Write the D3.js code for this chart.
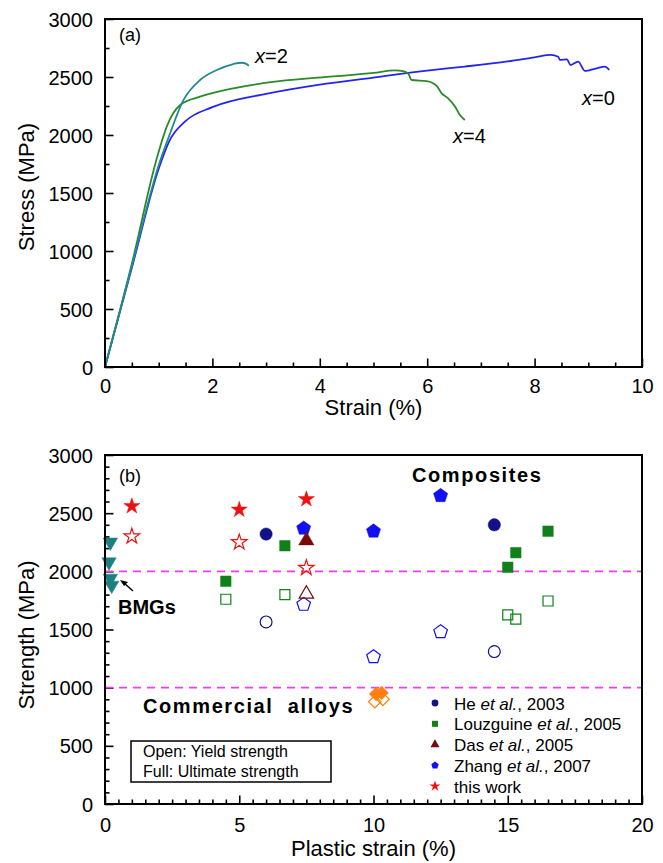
<!DOCTYPE html>
<html>
<head>
<meta charset="utf-8">
<script src="https://cdn.jsdelivr.net/npm/d3@7"></script>
<style>
  body { margin: 0; background: #fff; }
  svg { display: block; font-family: "Liberation Sans", Arial, sans-serif; }
  .axis text { font-size: 20px; fill: #000; }
  .axis line { stroke: #000; stroke-width: 1.6; }
  .axis path { display: none; }
</style>
</head>
<body>
<div id="chart"></div>
<script>
// ---- panel (a): stress-strain curves, [strain %, stress MPa] ----
const curveX0 = [[0,0],[0.5,855],[1.0,1710],[1.2,1950],[1.5,2120],[2.0,2240],[3.0,2355],[4.0,2435],
  [5.0,2495],[6.0,2555],[6.7,2590],[7.5,2635],[8.0,2670],[8.3,2690],[8.44,2675],[8.47,2647],[8.6,2652],
  [8.67,2603],[8.81,2632],[8.94,2552],[9.03,2560],[9.16,2575],[9.31,2589],[9.39,2560]];
const curveX2 = [[0,0],[0.5,870],[1.0,1740],[1.2,2000],[1.46,2300],[1.77,2474],[2.08,2560],
  [2.39,2612],[2.55,2623],[2.62,2615],[2.68,2597]];
const curveX4 = [[0,0],[0.5,890],[0.96,1790],[1.15,2072],[1.27,2187],[1.40,2259],[1.77,2330],
  [2.39,2402],[3.01,2451],[4.19,2503],[5.0,2535],[5.4,2557],[5.55,2550],[5.65,2526],[5.71,2474],
  [5.99,2465],[6.18,2422],[6.27,2359],[6.39,2316],[6.52,2244],[6.61,2172],[6.70,2129]];
const curveLabels = ["x=0", "x=2", "x=4"];

// ---- panel (b): strength vs plastic strain ----
const bmgStrain = [0.2, 0.15, 0.2, 0.25];
const bmgStrength = [2250, 2080, 1940, 1880];
const thisStrain = [1, 5, 7.5];
const thisUlt = [2560, 2530, 2620];
const thisYield = [2300, 2250, 2030];
const heStrain = [6, 14.5];
const heUlt = [2320, 2400];
const heYield = [1565, 1310];
const louzStrain = [4.5, 6.7, 15.0, 15.3, 16.5];
const louzUlt = [1915, 2220, 2035, 2160, 2345];
const louzYield = [1760, 1800, 1625, 1590, 1745];
const dasStrain = [7.5];
const dasUlt = [2265];
const dasYield = [1805];
const zhangStrain = [7.4, 10, 12.5];
const zhangUlt = [2370, 2345, 2650];
const zhangYield = [1715, 1265, 1480];
const alloyUltStrain = [10.1, 10.3];
const alloyUlt = [945, 955];
const alloyYieldStrain = [10.05, 10.35];
const alloyYield = [880, 900];
const limitLines = [2000, 1000];
const legendNames = [
  ["He ", "et al.", ", 2003"],
  ["Louzguine ", "et al.", ", 2005"],
  ["Das ", "et al.", ", 2005"],
  ["Zhang ", "et al.", ", 2007"],
  ["this work", "", ""]
];

const W = 663, H = 863;
const svg = d3.select("#chart").append("svg").attr("width", W).attr("height", H);

// pentagon symbol (d3 has none)
const symbolPentagon = {
  draw(ctx, size) {
    const r = Math.sqrt(size / 2.378);
    for (let i = 0; i < 5; i++) {
      const a = -Math.PI / 2 + i * 2 * Math.PI / 5;
      const px = r * Math.cos(a), py = r * Math.sin(a);
      if (i === 0) ctx.moveTo(px, py); else ctx.lineTo(px, py);
    }
    ctx.closePath();
  }
};

function frameAxes(g, x, y, xMajor, xMinor, yMajor, yMinor, ih) {
  g.append("g").attr("class", "axis").attr("transform", `translate(0,${ih})`)
    .call(d3.axisBottom(x).tickValues(xMinor).tickSize(-4.5).tickFormat(""));
  g.append("g").attr("class", "axis").attr("transform", `translate(0,${ih})`)
    .call(d3.axisBottom(x).tickValues(xMajor).tickSize(-8.5).tickPadding(11).tickFormat(d3.format("d")));
  g.append("g").attr("class", "axis")
    .call(d3.axisLeft(y).tickValues(yMinor).tickSize(-4.5).tickFormat(""));
  g.append("g").attr("class", "axis")
    .call(d3.axisLeft(y).tickValues(yMajor).tickSize(-8.5).tickPadding(12).tickFormat(d3.format("d")));
  g.selectAll(".axis text").attr("dy", null);
}

// ================= panel (a) =================
const A = { left: 105, top: 19, w: 537, h: 348 };
const gA = svg.append("g").attr("transform", `translate(${A.left},${A.top})`);
const xA = d3.scaleLinear().domain([0, 10]).range([0, A.w]);
const yA = d3.scaleLinear().domain([0, 3000]).range([A.h, 0]);

frameAxes(gA, xA, yA, d3.range(0, 11, 2), d3.range(0.5, 10, 0.5).filter(v => v % 2 !== 0),
  d3.range(0, 3001, 500), d3.range(250, 3000, 500), A.h);
gA.selectAll(".axis text").filter(function () { return this.parentNode.parentNode.getAttribute("transform"); })
  .attr("y", 26);
gA.selectAll(".axis text").filter(function () { return !this.parentNode.parentNode.getAttribute("transform"); })
  .attr("dy", "0.35em");

const lineA = d3.line().x(d => xA(d[0])).y(d => yA(d[1])).curve(d3.curveMonotoneX);
const curves = [[curveX0, "#2424f2"], [curveX4, "#2a8a2a"], [curveX2, "#23888f"]];
curves.forEach(([data, col]) => {
  gA.append("path").datum(data).attr("d", lineA)
    .attr("fill", "none").attr("stroke", col).attr("stroke-width", 1.8);
});
gA.append("rect").attr("width", A.w).attr("height", A.h)
  .attr("fill", "none").attr("stroke", "#000").attr("stroke-width", 2);

gA.append("text").attr("x", 14).attr("y", 22).attr("font-size", 18).text("(a)");
function xLabel(g, x, y, label) {
  const t = g.append("text").attr("x", x).attr("y", y).attr("font-size", 20);
  t.append("tspan").attr("font-style", "italic").text(label[0]);
  t.append("tspan").text(label.slice(1));
}
xLabel(gA, 150, 44, curveLabels[1]);
xLabel(gA, 348, 124, curveLabels[2]);
xLabel(gA, 477, 86, curveLabels[0]);

svg.append("text").attr("transform", `translate(34,${A.top + 168}) rotate(-90)`)
  .attr("text-anchor", "middle").attr("font-size", 22).text("Stress (MPa)");
svg.append("text").attr("x", A.left + A.w / 2).attr("y", 415)
  .attr("text-anchor", "middle").attr("font-size", 22).text("Strain (%)");

// ================= panel (b) =================
const B = { left: 105, top: 455, w: 537, h: 349 };
const gB = svg.append("g").attr("transform", `translate(${B.left},${B.top})`);
const xB = d3.scaleLinear().domain([0, 20]).range([0, B.w]);
const yB = d3.scaleLinear().domain([0, 3000]).range([B.h, 0]);

frameAxes(gB, xB, yB, d3.range(0, 21, 5), d3.range(0.5, 20, 0.5).filter(v => v % 5 !== 0),
  d3.range(0, 3001, 500), d3.range(100, 3000, 100).filter(v => v % 500 !== 0), B.h);
gB.selectAll(".axis text").filter(function () { return this.parentNode.parentNode.getAttribute("transform"); })
  .attr("y", 28);
gB.selectAll(".axis text").filter(function () { return !this.parentNode.parentNode.getAttribute("transform"); })
  .attr("dy", "0.35em");

gB.selectAll("line.limit").data(limitLines).join("line").attr("class", "limit")
  .attr("x1", 0).attr("x2", B.w).attr("y1", d => yB(d)).attr("y2", d => yB(d))
  .attr("stroke", "#f03cf0").attr("stroke-width", 1.6).attr("stroke-dasharray", "8,6");

function plotSeries(xs, ys, type, size, color, filled, rotate = 0) {
  const sym = d3.symbol().type(type).size(size);
  gB.append("g").selectAll("path").data(xs.map((x, i) => [x, ys[i]])).join("path")
    .attr("d", sym)
    .attr("transform", d => `translate(${xB(d[0])},${yB(d[1])}) rotate(${rotate})`)
    .attr("fill", filled ? color : "none")
    .attr("stroke", color).attr("stroke-width", filled ? 0.5 : 1.2);
}

const C = { he: "#111188", louz: "#10801a", das: "#7a0a0a", zhang: "#1010f0", this: "#f01010",
  alloy: "#ff8010", bmg: "#1a8080" };

plotSeries(bmgStrain, bmgStrength, d3.symbolTriangle, 90, C.bmg, true, 180);
plotSeries(alloyYieldStrain, alloyYield, d3.symbolSquare, 80, C.alloy, false, 45);
plotSeries(alloyUltStrain, alloyUlt, d3.symbolSquare, 95, C.alloy, true, 45);
plotSeries(heStrain, heYield, d3.symbolCircle, 110, C.he, false);
plotSeries(heStrain, heUlt, d3.symbolCircle, 120, C.he, true);
plotSeries(louzStrain, louzYield, d3.symbolSquare, 100, C.louz, false);
plotSeries(louzStrain, louzUlt, d3.symbolSquare, 110, C.louz, true);
plotSeries(zhangStrain, zhangYield, symbolPentagon, 120, C.zhang, false);
plotSeries(zhangStrain, zhangUlt, symbolPentagon, 130, C.zhang, true);
plotSeries(dasStrain, dasYield, d3.symbolTriangle, 90, C.das, false);
plotSeries(dasStrain, dasUlt, d3.symbolTriangle, 100, C.das, true);
plotSeries(thisStrain, thisYield, d3.symbolStar, 75, C.this, false);
plotSeries(thisStrain, thisUlt, d3.symbolStar, 80, C.this, true);

gB.append("rect").attr("width", B.w).attr("height", B.h)
  .attr("fill", "none").attr("stroke", "#000").attr("stroke-width", 2);

gB.append("text").attr("x", 14).attr("y", 27).attr("font-size", 18).text("(b)");
gB.append("text").attr("x", 307).attr("y", 27).attr("font-size", 20).attr("font-weight", "bold")
  .attr("letter-spacing", 1.6).text("Composites");
gB.append("text").attr("x", 38).attr("y", 258).attr("font-size", 20).attr("font-weight", "bold")
  .attr("letter-spacing", 1.6).style("white-space", "pre").text("Commercial  alloys");
gB.append("text").attr("x", 13).attr("y", 159).attr("font-size", 20).attr("font-weight", "bold")
  .text("BMGs");
// arrow to BMG points
gB.append("line").attr("x1", 28).attr("y1", 136).attr("x2", 19).attr("y2", 128)
  .attr("stroke", "#000").attr("stroke-width", 1.5);
gB.append("path").attr("d", "M15,125 L23,127 L19,131 Z").attr("fill", "#000");

// open/full note box
gB.append("rect").attr("x", 26).attr("y", 286).attr("width", 200).attr("height", 41)
  .attr("fill", "none").attr("stroke", "#000").attr("stroke-width", 1.5);
gB.append("text").attr("x", 38).attr("y", 302).attr("font-size", 16).text("Open: Yield strength");
gB.append("text").attr("x", 38).attr("y", 322).attr("font-size", 16).text("Full: Ultimate strength");

// legend
const legendTypes = [d3.symbolCircle, d3.symbolSquare, d3.symbolTriangle, symbolPentagon, d3.symbolStar];
const legendColors = [C.he, C.louz, C.das, C.zhang, C.this];
const lg = gB.append("g").attr("transform", "translate(330,248)");
legendNames.forEach((nm, i) => {
  const row = lg.append("g").attr("transform", `translate(0,${i * 20.8})`);
  row.append("path").attr("d", d3.symbol().type(legendTypes[i]).size(36)).attr("fill", legendColors[i]);
  const t = row.append("text").attr("x", 19).attr("y", 6.5).attr("font-size", 17);
  t.append("tspan").text(nm[0]);
  if (nm[1]) t.append("tspan").attr("font-style", "italic").text(nm[1]);
  if (nm[2]) t.append("tspan").text(nm[2]);
});

svg.append("text").attr("transform", `translate(34,635) rotate(-90)`)
  .attr("text-anchor", "middle").attr("font-size", 22).text("Strength (MPa)");
svg.append("text").attr("x", B.left + B.w / 2).attr("y", 856)
  .attr("text-anchor", "middle").attr("font-size", 22).text("Plastic strain (%)");
</script>
</body>
</html>
